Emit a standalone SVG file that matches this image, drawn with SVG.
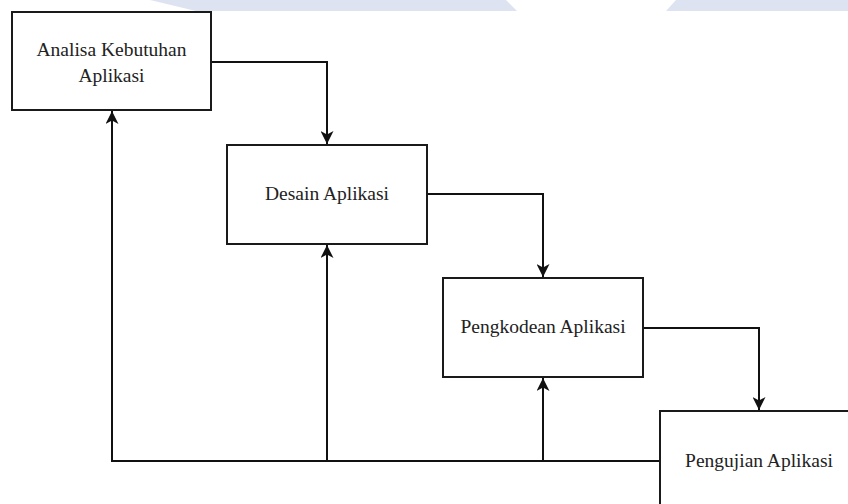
<svg xmlns="http://www.w3.org/2000/svg" width="848" height="504" viewBox="0 0 848 504">
  <style>
    .box { fill: #ffffff; stroke: #1a1a1a; stroke-width: 2; }
    .lbl { font-family: "Liberation Serif", "Times New Roman", serif; font-size: 19.5px; fill: #222222; text-anchor: middle; }
    .edge { fill: none; stroke: #111111; stroke-width: 2; }
    .wm { fill: #dde3f0; }
  </style>
  <defs>
    <marker id="arr" markerUnits="userSpaceOnUse" markerWidth="14" markerHeight="13" refX="13" refY="6.5" orient="auto">
      <path d="M0,0 L13,6.5 L0,13 L3.5,6.5 Z" fill="#111111"/>
    </marker>
  </defs>
  <rect width="848" height="504" fill="#ffffff"/>
  <g id="watermark">
    <polygon class="wm" points="150,0 506,0 517,11 196,11"/>
    <polygon class="wm" points="676,0 848,0 848,11 666,11"/>
  </g>
  <g id="connectors">
    <path class="edge" d="M211,62 H327 V144" marker-end="url(#arr)"/>
    <path class="edge" d="M427,194 H543 V277" marker-end="url(#arr)"/>
    <path class="edge" d="M643,328 H759 V410" marker-end="url(#arr)"/>
    <path class="edge" d="M660,461 H112 V111" marker-end="url(#arr)"/>
    <path class="edge" d="M327,461 V245" marker-end="url(#arr)"/>
    <path class="edge" d="M543,461 V378" marker-end="url(#arr)"/>
  </g>
  <g id="analisa">
    <rect class="box" x="12" y="12" width="199" height="98"/>
    <text class="lbl" x="111.5" y="56">Analisa Kebutuhan</text>
    <text class="lbl" x="111.5" y="82">Aplikasi</text>
  </g>
  <g id="desain">
    <rect class="box" x="227" y="145" width="200" height="99"/>
    <text class="lbl" x="327" y="200">Desain Aplikasi</text>
  </g>
  <g id="pengkodean">
    <rect class="box" x="443" y="278" width="200" height="99"/>
    <text class="lbl" x="543" y="333">Pengkodean Aplikasi</text>
  </g>
  <g id="pengujian">
    <rect class="box" x="660" y="411" width="200" height="99"/>
    <text class="lbl" x="759" y="467">Pengujian Aplikasi</text>
  </g>
</svg>
